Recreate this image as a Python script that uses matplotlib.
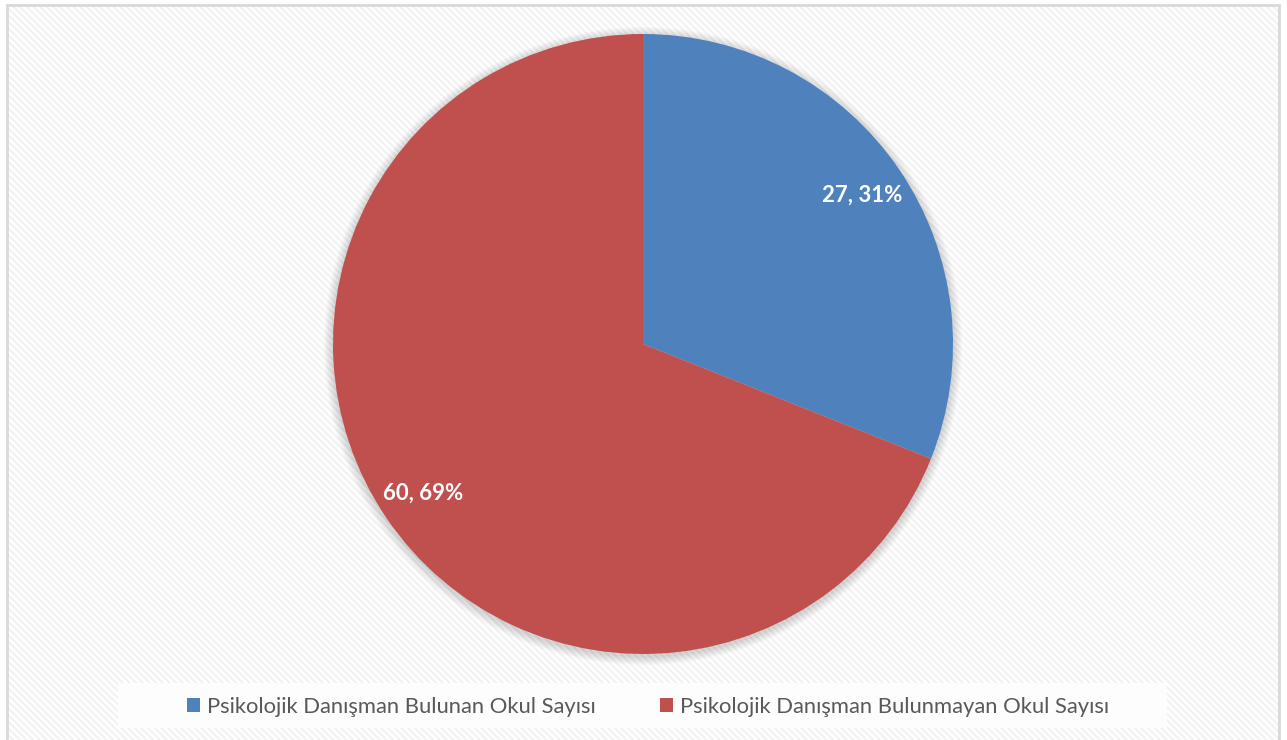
import matplotlib.pyplot as plt
from matplotlib.patches import Rectangle, Circle
import numpy as np

plt.rcParams['font.family'] = ['Lato', 'DejaVu Sans']
plt.rcParams['hatch.linewidth'] = 1.6

labels = ['Psikolojik Danışman Bulunan Okul Sayısı', 'Psikolojik Danışman Bulunmayan Okul Sayısı']
values = [27, 60]
colors = ['#4F81BD', '#C0504D']

W, H = 1287, 740
fig = plt.figure(figsize=(W / 100, H / 100), dpi=100)
fig.patch.set_facecolor('white')
ax = fig.add_axes([0, 0, 1, 1])

cx, cy, r = 643, H - 344, 310
total = sum(values)


def fmt(p):
    v = int(round(p * total / 100))
    return '%d, %d%%' % (v, round(p))


wedges, _, autotexts = ax.pie(values, colors=colors, startangle=90, counterclock=False,
                              center=(cx, cy), radius=r, autopct=fmt, pctdistance=0.855,
                              wedgeprops={'linewidth': 0})
for t in autotexts:
    t.set_color('white')
    t.set_fontweight('bold')
    t.set_fontsize(16)
    t.set_zorder(5)
for w in wedges:
    w.set_zorder(3)

ax.set_xlim(0, W)
ax.set_ylim(0, H)
ax.set_aspect('equal')
ax.axis('off')

# hatched chart area background with grey border
ax.add_patch(Rectangle((7, -5), 1272, H, facecolor='white', edgecolor='#f2f2f2',
                       linewidth=0, hatch='\\\\\\\\\\', zorder=0))
ax.add_patch(Rectangle((7, -5), 1272, H, facecolor='none', edgecolor='#d9d9d9',
                       linewidth=2, zorder=0.5))

# soft shadow around the pie
for k in range(10):
    ax.add_patch(Circle((cx, cy - 2), r + 1 + k * 0.9, facecolor='#000000', edgecolor='none',
                        alpha=0.016, zorder=1))

# legend band
ax.add_patch(Rectangle((118, H - 728), 1049, 45, facecolor='#fdfdfd', edgecolor='none', zorder=2))
leg = ax.legend(wedges, labels, loc='center', bbox_to_anchor=(648 / W, (H - 707) / H),
                bbox_transform=fig.transFigure, ncol=2, frameon=False, fontsize=15.8,
                handlelength=0.6, handleheight=0.6, handletextpad=0.3, columnspacing=2.95)
for t in leg.get_texts():
    t.set_color('#595959')
leg.set_zorder(6)

fig.savefig('out.png', dpi=100)
